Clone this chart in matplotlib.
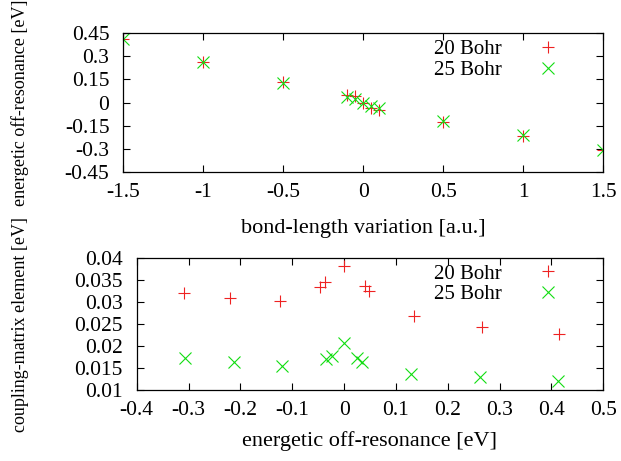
import matplotlib
matplotlib.use("Agg")
import matplotlib.pyplot as plt
from matplotlib.ticker import FormatStrFormatter, MultipleLocator

plt.rcParams["font.family"] = "Liberation Serif"
plt.rcParams["axes.unicode_minus"] = False

# bond-length variation [a.u.]
bond = [-1.5, -1.0, -0.5, -0.1, -0.05, 0.0, 0.05, 0.1, 0.5, 1.0, 1.5]

# energetic off-resonance [eV]
off_20 = [0.414, 0.266, 0.134, 0.048, 0.040, 0.0, -0.037, -0.047, -0.124, -0.220, -0.308]
off_25 = [0.413, 0.263, 0.129, 0.034, 0.025, 0.0, -0.024, -0.034, -0.119, -0.213, -0.307]

# coupling-matrix element [eV]
coup_20 = [0.0227, 0.0243, 0.0268, 0.0326, 0.0336, 0.0383, 0.0345, 0.0335, 0.0303, 0.0310, 0.0322]
coup_25 = [0.0120, 0.0129, 0.0136, 0.0163, 0.0172, 0.0206, 0.0178, 0.0170, 0.0155, 0.0164, 0.0172]

labels = ["20 Bohr", "25 Bohr"]
red = "#ee2222"
green = "#11dd11"

fig = plt.figure(figsize=(6.21, 4.61), dpi=100)
ax1 = fig.add_axes([0.1986, 0.6275, 0.773, 0.3002])
ax2 = fig.add_axes([0.2201, 0.154, 0.7514, 0.2857])

ax1.plot(bond, off_20, ls="none", marker="+", ms=9, mew=0.8, color=red, label=labels[0])
ax1.plot(bond, off_25, ls="none", marker="x", ms=8.5, mew=0.8, color=green, label=labels[1])
ax2.plot(off_20, coup_20, ls="none", marker="+", ms=9, mew=0.8, color=red, label=labels[0])
ax2.plot(off_25, coup_25, ls="none", marker="x", ms=8.5, mew=0.8, color=green, label=labels[1])

ax1.set_xlim(-1.5, 1.5)
ax1.set_ylim(-0.45, 0.45)
ax1.xaxis.set_major_locator(MultipleLocator(0.5))
ax1.yaxis.set_major_locator(MultipleLocator(0.15))
ax1.set_xlabel("bond-length variation [a.u.]", fontsize=16, va="center")
ax1.set_ylabel("energetic off-resonance [eV]", fontsize=13, va="center")
ax1.xaxis.set_label_coords(0.5, -0.412)
ax1.yaxis.set_label_coords(-0.215, 0.5)

ax2.set_xlim(-0.4, 0.5)
ax2.set_ylim(0.01, 0.04)
ax2.xaxis.set_major_locator(MultipleLocator(0.1))
ax2.yaxis.set_major_locator(MultipleLocator(0.005))
ax2.set_xlabel("energetic off-resonance [eV]", fontsize=16, va="center")
ax2.set_ylabel("coupling-matrix element [eV]", fontsize=13, va="center")
ax2.xaxis.set_label_coords(0.5, -0.387)
ax2.yaxis.set_label_coords(-0.25, 0.5)

for ax in (ax1, ax2):
    ax.xaxis.set_major_formatter(FormatStrFormatter("%g"))
    ax.yaxis.set_major_formatter(FormatStrFormatter("%g"))
    ax.tick_params(direction="in", top=True, right=True, length=5, width=0.8,
                   labelsize=15.5)
    ax.tick_params(axis="x", pad=8)
    ax.tick_params(axis="y", pad=10)
    for s in ax.spines.values():
        s.set_linewidth(0.9)

ax1.legend(loc="upper right", bbox_to_anchor=(0.9275, 0.954), frameon=False,
           markerfirst=False, fontsize=15, handlelength=2, handletextpad=1.2,
           labelspacing=0.05, borderpad=0, borderaxespad=0)
ax2.legend(loc="upper right", bbox_to_anchor=(0.9254, 0.957), frameon=False,
           markerfirst=False, fontsize=15, handlelength=2, handletextpad=1.2,
           labelspacing=0.05, borderpad=0, borderaxespad=0)

fig.savefig("out.png", dpi=100)
